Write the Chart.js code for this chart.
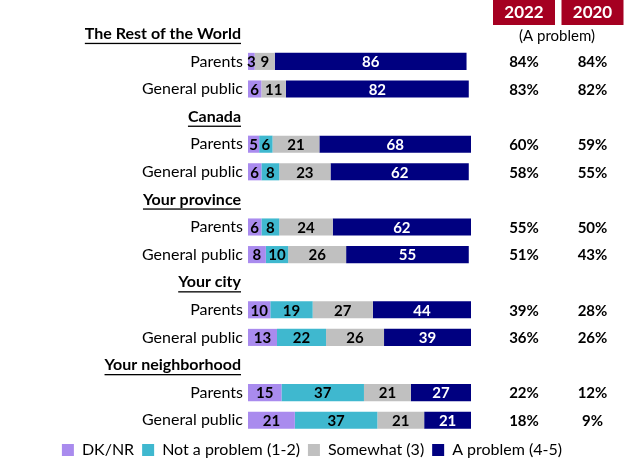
<!DOCTYPE html>
<html>
<head>
<meta charset="utf-8">
<script src="https://cdn.jsdelivr.net/npm/chart.js@4"></script>
<style>
  html, body { margin: 0; padding: 0; background: #fff; }
  #wrap { width: 624px; height: 468px; }
</style>
</head>
<body>
<div id="wrap"><canvas id="myChart"></canvas></div>
<script>
const groups = ["The Rest of the World", "Canada", "Your province", "Your city", "Your neighborhood"];
const audiences = ["Parents", "General public"];

// one value per bar, in order: group 1 parents, group 1 general public, group 2 parents, ...
const dkNr       = [3, 6, 5, 6, 6, 8, 10, 13, 15, 21];
const notProblem = [0, 0, 6, 8, 8, 10, 19, 22, 37, 37];
const somewhat   = [9, 11, 21, 23, 24, 26, 27, 26, 21, 21];
const aProblem   = [86, 82, 68, 62, 62, 55, 44, 39, 27, 21];

const years = ["2022", "2020"];
const pct2022 = [84, 83, 60, 58, 55, 51, 39, 36, 22, 18];
const pct2020 = [84, 82, 59, 55, 50, 43, 28, 26, 12, 9];

const seriesNames = ["DK/NR", "Not a problem (1-2)", "Somewhat (3)", "A problem (4-5)"];
const seriesColors = ["#A98BEE", "#3FB8CF", "#C0C0C0", "#000080"];
const labelColors = ["#000", "#000", "#000", "#fff"];

const FONT = "Lato, 'Open Sans', sans-serif";

// rows: a header row for each group, then one row per audience
const rows = [];
const rowIsHeader = [];
const rowBar = [];
groups.forEach((g, gi) => {
  rows.push(g); rowIsHeader.push(true); rowBar.push(-1);
  audiences.forEach((a, ai) => {
    rows.push(a); rowIsHeader.push(false); rowBar.push(gi * audiences.length + ai);
  });
});

function toRows(arr) {
  return rowBar.map(b => (b < 0 ? null : arr[b]));
}

const seriesValues = [dkNr, notProblem, somewhat, aProblem];

const textPlugin = {
  id: "textPlugin",
  afterDatasetsDraw(chart) {
    const ctx = chart.ctx;
    const yScale = chart.scales.y;
    ctx.save();

    // segment values
    ctx.font = "bold 15px " + FONT;
    ctx.textAlign = "center";
    ctx.textBaseline = "middle";
    chart.data.datasets.forEach((ds, di) => {
      const meta = chart.getDatasetMeta(di);
      meta.data.forEach((bar, i) => {
        const v = ds.data[i];
        if (v === null || v === 0) return;
        ctx.fillStyle = labelColors[di];
        ctx.fillText(String(v), (bar.x + bar.base) / 2, bar.y + 1);
      });
    });

    // row labels and group headers
    ctx.textAlign = "right";
    rows.forEach((label, i) => {
      const y = yScale.getPixelForValue(i);
      ctx.fillStyle = "#000";
      if (rowIsHeader[i]) {
        ctx.font = "bold 16px " + FONT;
        ctx.fillText(label, 241, y);
        const w = ctx.measureText(label).width;
        ctx.fillRect(241 - w, y + 9, w, 1.3);
      } else {
        ctx.font = "16px " + FONT;
        ctx.fillText(label, 243, y);
      }
    });

    // right hand columns
    const colX = [524, 592.5];
    ctx.textAlign = "center";
    years.forEach((yr, k) => {
      ctx.fillStyle = "#A50021";
      ctx.fillRect(colX[k] - 31, 0, 62, 25);
      ctx.fillStyle = "#fff";
      ctx.font = "bold 17px " + FONT;
      ctx.fillText(yr, colX[k], 13);
    });
    ctx.fillStyle = "#000";
    ctx.font = "15px " + FONT;
    ctx.fillText("(A problem)", 557, 36);

    ctx.font = "bold 15px " + FONT;
    rows.forEach((label, i) => {
      if (rowBar[i] < 0) return;
      const y = yScale.getPixelForValue(i);
      ctx.fillText(pct2022[rowBar[i]] + "%", colX[0], y + 1);
      ctx.fillText(pct2020[rowBar[i]] + "%", colX[1], y + 1);
    });
    ctx.restore();
  }
};

const ctx = document.getElementById("myChart");

const myChart = new Chart(ctx, {
  type: "bar",
  data: {
    labels: rows,
    datasets: seriesNames.map((name, si) => ({
      label: name,
      data: toRows(seriesValues[si]),
      backgroundColor: seriesColors[si],
      borderWidth: 0,
      categoryPercentage: 1,
      barPercentage: 0.62
    }))
  },
  options: {
    indexAxis: "y",
    responsive: true,
    maintainAspectRatio: false,
    animation: false,
    layout: {
      padding: { top: 20, bottom: 0, left: 0, right: 0 }
    },
    scales: {
      x: {
        stacked: true,
        min: 0,
        max: 100,
        display: false
      },
      y: {
        stacked: true,
        grid: { display: false },
        border: { display: false },
        ticks: { display: false },
        afterFit(scale) { scale.width = 248; }
      },
      y2: {
        type: "category",
        position: "right",
        labels: rows,
        grid: { display: false },
        border: { display: false },
        ticks: { display: false },
        afterFit(scale) { scale.width = 153; }
      }
    },
    plugins: {
      tooltip: { enabled: false },
      legend: {
        position: "bottom",
        labels: {
          boxWidth: 12,
          boxHeight: 12,
          padding: 8,
          color: "#000",
          font: { size: 16, family: FONT }
        }
      }
    }
  },
  plugins: [textPlugin]
});
</script>
</body>
</html>
